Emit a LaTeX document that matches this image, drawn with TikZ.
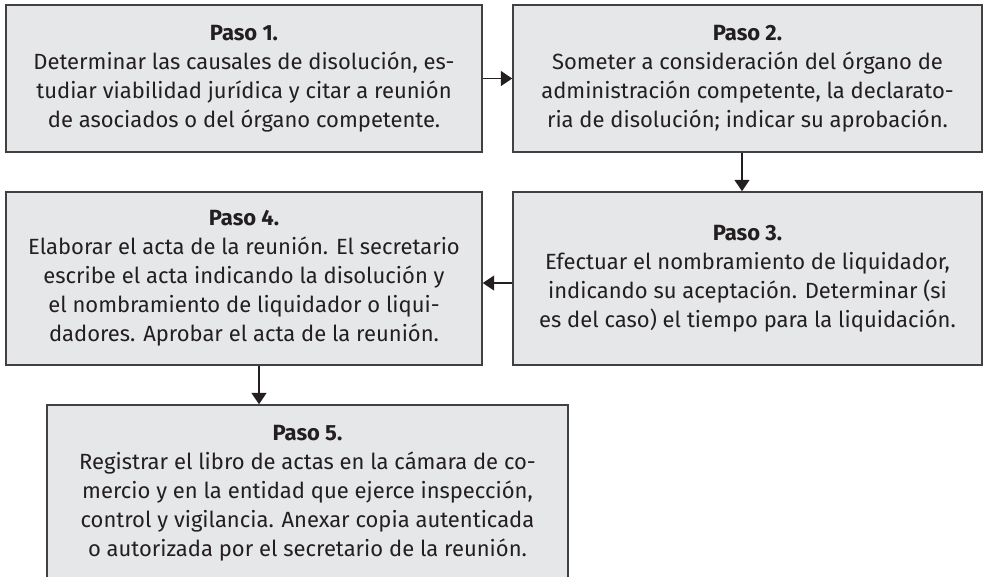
\documentclass[tikz,border=0pt]{standalone}
\usepackage{fontspec}
\setmainfont{Fira Sans}
\usetikzlibrary{arrows.meta}
\definecolor{boxfill}{HTML}{E6E7E8}
\definecolor{boxline}{HTML}{414042}
\definecolor{txt}{HTML}{231F20}
\tikzset{
  stepbox/.style={draw=boxline, fill=boxfill, line width=1.1pt, inner sep=0pt,
    align=center, text=txt, font=\fontsize{16.5pt}{21.8pt}\selectfont},
  arr/.style={draw=txt, line width=1.3pt, -{Triangle[width=11pt,length=8.5pt]}},
}
\begin{document}
\begin{tikzpicture}[x=0.75pt,y=-0.75pt]
\useasboundingbox (0,0) rectangle (986,576);
\node[stepbox, minimum width=357pt, minimum height=110.25pt] (b1) at (244,78.5)
  {\textbf{Paso 1.}\\Determinar las causales de disolución, es-\\tudiar viabilidad jurídica y citar a reunión\\de asociados o del órgano competente.};
\node[stepbox, minimum width=351.75pt, minimum height=110.25pt] (b2) at (747.5,78.5)
  {\textbf{Paso 2.}\\Someter a consideración del órgano de\\administración competente, la declarato-\\ria de disolución; indicar su aprobación.};
\node[stepbox, minimum width=351.75pt, minimum height=129.75pt] (b3) at (747.5,278.5)
  {\textbf{Paso 3.}\\Efectuar el nombramiento de liquidador,\\indicando su aceptación. Determinar (si\\es del caso) el tiempo para la liquidación.};
\node[stepbox, minimum width=357pt, minimum height=129.75pt] (b4) at (244,278.5)
  {\textbf{Paso 4.}\\Elaborar el acta de la reunión. El secretario\\escribe el acta indicando la disolución y\\el nombramiento de liquidador o liqui-\\dadores. Aprobar el acta de la reunión.};
\node[stepbox, minimum width=390.75pt, minimum height=132.75pt] (b5) at (307.5,493.5)
  {\textbf{Paso 5.}\\Registrar el libro de actas en la cámara de co-\\mercio y en la entidad que ejerce inspección,\\control y vigilancia. Anexar copia autenticada\\o autorizada por el secretario de la reunión.};
\coordinate (c23) at (742,0);
\coordinate (c34) at (0,283);
\coordinate (c45) at (259,0);
\draw[arr] (b1) -- (b2);
\draw[arr] (b2.south -| c23) -- (b3.north -| c23);
\draw[arr] (b3.west |- c34) -- (b4.east |- c34);
\draw[arr] (b4.south -| c45) -- (b5.north -| c45);
\end{tikzpicture}
\end{document}
